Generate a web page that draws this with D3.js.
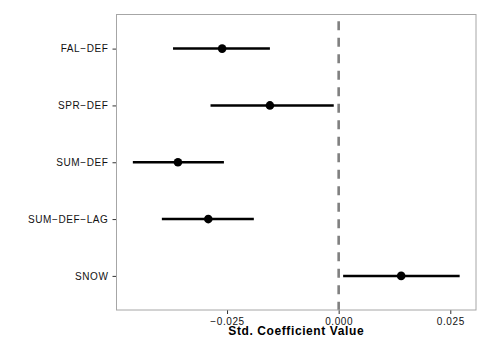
<!DOCTYPE html>
<html lang="en">

<head>
    <meta charset="UTF-8">
    <script src="https://d3js.org/d3.v7.min.js"></script>
    <title>Coefficients</title>
    <style>
        body { margin: 0; background: #fff; }
        text { font-family: "Liberation Sans", Arial, sans-serif; }
    </style>
</head>

<body>
    <svg width="490" height="350" id="mainsvg"></svg>
    <script>
        // data
        const terms = ['FAL\u2212DEF', 'SPR\u2212DEF', 'SUM\u2212DEF', 'SUM\u2212DEF\u2212LAG', 'SNOW'];
        const estimate = [-0.0261, -0.0154, -0.0360, -0.0292, 0.0140];
        const lower = [-0.0371, -0.0287, -0.0461, -0.0396, 0.0010];
        const upper = [-0.0154, -0.0011, -0.0257, -0.0190, 0.0271];
        const xTicks = [-0.025, 0, 0.025];

        const data = terms.map((t, i) => ({ term: t, est: estimate[i], lo: lower[i], hi: upper[i] }));

        const svg = d3.select('#mainsvg');
        const width = +svg.attr('width');
        const height = +svg.attr('height');
        const margin = { top: 14.5, right: 14, bottom: 40, left: 116.5 };
        const innerWidth = width - margin.left - margin.right;
        const innerHeight = height - margin.top - margin.bottom;

        // ggplot style 5% expansion
        const lo = d3.min(lower), hi = d3.max(upper);
        const pad = (hi - lo) * 0.05;
        const xScale = d3.scaleLinear()
            .domain([lo - pad, hi + pad])
            .range([0, innerWidth]);

        const yScale = d3.scalePoint()
            .domain(terms)
            .range([0, innerHeight])
            .padding(0.6);

        const g = svg.append('g')
            .attr('transform', `translate(${margin.left}, ${margin.top})`);

        // panel
        g.append('rect')
            .attr('width', innerWidth)
            .attr('height', innerHeight)
            .attr('fill', 'white');

        // zero line
        g.append('line')
            .attr('x1', xScale(0)).attr('x2', xScale(0))
            .attr('y1', 0).attr('y2', innerHeight)
            .attr('stroke', '#808080')
            .attr('stroke-width', 2.6)
            .attr('stroke-dasharray', '9,7.5')
            .attr('stroke-dashoffset', 9.8);

        // error bars
        g.selectAll('.bar').data(data).enter().append('line')
            .attr('class', 'bar')
            .attr('x1', d => xScale(d.lo))
            .attr('x2', d => xScale(d.hi))
            .attr('y1', d => yScale(d.term))
            .attr('y2', d => yScale(d.term))
            .attr('stroke', 'black')
            .attr('stroke-width', 2.5);

        g.selectAll('.pt').data(data).enter().append('circle')
            .attr('class', 'pt')
            .attr('cx', d => xScale(d.est))
            .attr('cy', d => yScale(d.term))
            .attr('r', 4.3)
            .attr('fill', 'black');

        // axes
        const xAxis = d3.axisBottom(xScale)
            .tickValues(xTicks)
            .tickFormat(d => d3.format('.3f')(d).replace('-', '\u2212'))
            .tickSize(4)
            .tickPadding(4);
        const xg = g.append('g').call(xAxis)
            .attr('transform', `translate(0, ${innerHeight})`);

        const yAxis = d3.axisLeft(yScale)
            .tickSize(4)
            .tickPadding(4);
        const yg = g.append('g').call(yAxis);

        [xg, yg].forEach(a => {
            a.select('.domain').remove();
            a.selectAll('.tick line').attr('stroke', '#333').attr('stroke-width', 1);
            a.selectAll('.tick text')
                .attr('fill', '#111')
                .attr('font-size', 10)
                .style('letter-spacing', '0.6px');
        });

        // border
        g.append('rect')
            .attr('width', innerWidth)
            .attr('height', innerHeight)
            .attr('fill', 'none')
            .attr('stroke', '#a6a6a6')
            .attr('stroke-width', 1);

        g.append('text').text('Std. Coefficient Value')
            .attr('x', innerWidth / 2)
            .attr('y', innerHeight + 25)
            .attr('text-anchor', 'middle')
            .attr('font-size', 12)
            .attr('font-weight', 'bold')
            .style('letter-spacing', '0.6px')
            .attr('fill', 'black');
    </script>
</body>

</html>
